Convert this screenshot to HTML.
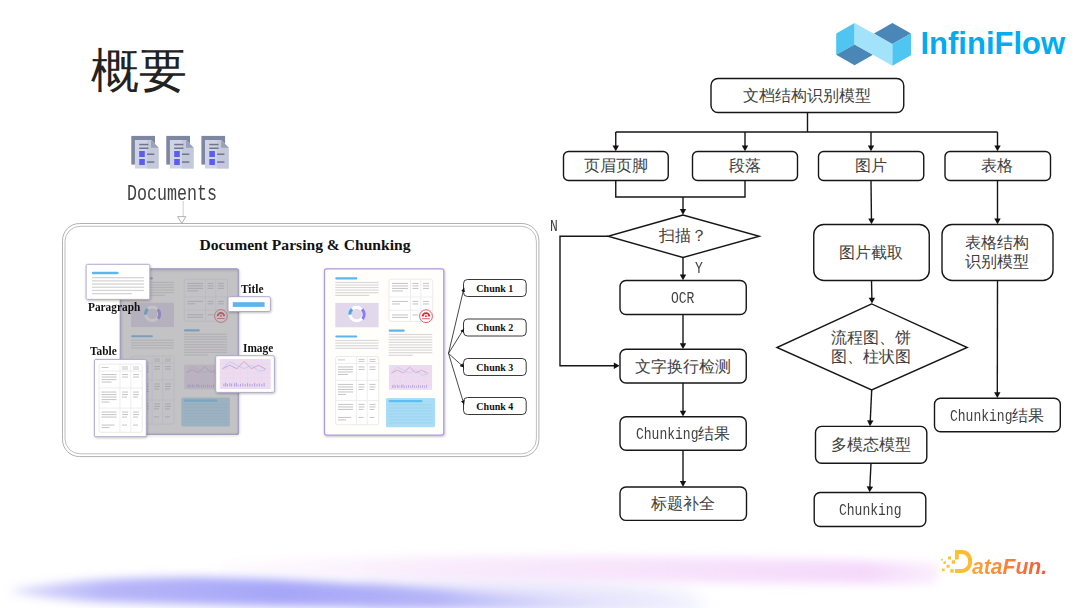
<!DOCTYPE html>
<html><head><meta charset="utf-8">
<style>
html,body{margin:0;padding:0;background:#fff;}
body{width:1080px;height:608px;position:relative;overflow:hidden;font-family:"Liberation Sans",sans-serif;}
.t{position:absolute;white-space:nowrap;text-align:center;color:#404040;font-size:15.5px;line-height:19px;width:240px;}
.m{display:inline-block;font-family:"Liberation Mono",monospace;font-size:16.7px;transform:scaleX(0.78);transform-origin:0 0;text-align:left;}
.lb{position:absolute;white-space:nowrap;font-family:"Liberation Serif",serif;font-weight:bold;color:#111;line-height:1;}
svg{position:absolute;left:0;top:0;}
</style></head>
<body>
<!-- background wave -->
<svg id="wave" width="1080" height="608" viewBox="0 0 1080 608" style="position:absolute;left:0;top:0">
  <defs>
    <filter id="bl1" x="-10%" y="-200%" width="120%" height="500%"><feGaussianBlur stdDeviation="5"/></filter>
    <filter id="bl2" x="-10%" y="-200%" width="120%" height="500%"><feGaussianBlur stdDeviation="9"/></filter>
    <linearGradient id="pk" x1="200" y1="0" x2="940" y2="0" gradientUnits="userSpaceOnUse">
      <stop offset="0" stop-color="#f6e4fa" stop-opacity="0.1"/><stop offset="0.35" stop-color="#f7e2fb" stop-opacity="0.7"/><stop offset="0.9" stop-color="#f5d9fb"/><stop offset="1" stop-color="#f6defb" stop-opacity="0.5"/>
    </linearGradient>
    <linearGradient id="bg1" x1="0" y1="0" x2="700" y2="0" gradientUnits="userSpaceOnUse">
      <stop offset="0" stop-color="#c4c2f9" stop-opacity="0.5"/><stop offset="0.15" stop-color="#b8b6f8"/><stop offset="0.4" stop-color="#a6a6f8"/><stop offset="0.62" stop-color="#b4b4f8"/><stop offset="0.8" stop-color="#d4d4fa" stop-opacity="0.8"/><stop offset="1" stop-color="#e6e6fb" stop-opacity="0.2"/>
    </linearGradient>
  </defs>
  <path d="M360,585 C500,575 650,585 700,600 L700,606 L360,606 Z" fill="#e3e1fb" filter="url(#bl2)"/>
  <path d="M220,563 C400,553 700,555 935,563 C942,570 942,580 930,584 C700,584 400,578 220,576 Z" fill="url(#pk)" filter="url(#bl1)"/>
  <path d="M12,590 C60,581 120,577 200,577 C300,579 390,585 470,592 C560,598 640,602 710,604 L710,610 C500,610 250,607 100,602 C60,600 30,596 12,592 Z" fill="url(#bg1)" filter="url(#bl1)"/>
</svg>

<!-- title -->
<div class="t" style="top:43px;width:240px;font-size:48px;line-height:56px;color:#222;text-align:left;left:91px;">概要</div>

<svg width="1080" height="608" viewBox="0 0 1080 608">
  <defs>
    <marker id="ar" viewBox="0 0 8 10" refX="8" refY="5" markerWidth="6" markerHeight="7" markerUnits="userSpaceOnUse" orient="auto">
      <path d="M0,0 L8,5 L0,10 z" fill="#111"/>
    </marker>
  </defs>
  <g fill="none" stroke="#161616" stroke-width="1.4">
    <rect x="711" y="78.5" width="192.75" height="34" rx="7"/>
    <rect x="563.5" y="151.5" width="104.75" height="29" rx="5"/>
    <rect x="692.5" y="151.5" width="105" height="29" rx="5"/>
    <rect x="818.5" y="151.5" width="105.25" height="29" rx="5"/>
    <rect x="945" y="151.5" width="105.5" height="29" rx="5"/>
    <rect x="620" y="280.5" width="126.25" height="34" rx="6"/>
    <rect x="620" y="349.25" width="126.25" height="33.75" rx="6"/>
    <rect x="620" y="416.75" width="126.25" height="33.5" rx="6"/>
    <rect x="620" y="487" width="126.5" height="33.4" rx="6"/>
    <rect x="813.75" y="224.5" width="115.5" height="56" rx="10"/>
    <rect x="942" y="224.5" width="111" height="56" rx="10"/>
    <rect x="934.5" y="398.3" width="125.8" height="33.4" rx="6"/>
    <rect x="815.5" y="426.4" width="111.3" height="36.9" rx="6"/>
    <rect x="814.2" y="492.5" width="111.6" height="34" rx="6"/>
    <path d="M683,215 L608,236.25 L683,257.5 L759.25,236.25 Z"/>
    <path d="M871.7,303.9 L776.9,347.5 L871.7,390 L967.2,347.5 Z"/>
    <!-- connectors -->
    <path d="M807.5,112.5 V132 M615.75,132 H997.5"/>
    <path d="M615.75,132.00 L615.75,146.40"/>
    <path d="M615.75,151.20 L612.55,145.40 L618.95,145.40 Z" fill="#111" stroke="none"/>
    <path d="M745.00,132.00 L745.00,146.40"/>
    <path d="M745.00,151.20 L741.80,145.40 L748.20,145.40 Z" fill="#111" stroke="none"/>
    <path d="M871.00,132.00 L871.00,146.40"/>
    <path d="M871.00,151.20 L867.80,145.40 L874.20,145.40 Z" fill="#111" stroke="none"/>
    <path d="M997.50,132.00 L997.50,146.40"/>
    <path d="M997.50,151.20 L994.30,145.40 L1000.70,145.40 Z" fill="#111" stroke="none"/>
    <path d="M615.75,180.5 V197 H745 V180.5"/>
    <path d="M683.00,197.00 L683.00,210.00"/>
    <path d="M683.00,214.80 L679.80,209.00 L686.20,209.00 Z" fill="#111" stroke="none"/>
    <path d="M683.00,257.50 L683.00,275.50"/>
    <path d="M683.00,280.30 L679.80,274.50 L686.20,274.50 Z" fill="#111" stroke="none"/>
    <path d="M683.00,314.50 L683.00,344.20"/>
    <path d="M683.00,349.00 L679.80,343.20 L686.20,343.20 Z" fill="#111" stroke="none"/>
    <path d="M608.00,236.25 L560.00,236.25 L560.00,365.75 L614.80,365.75"/>
    <path d="M619.60,365.75 L613.80,368.95 L613.80,362.55 Z" fill="#111" stroke="none"/>
    <path d="M683.00,383.00 L683.00,411.70"/>
    <path d="M683.00,416.50 L679.80,410.70 L686.20,410.70 Z" fill="#111" stroke="none"/>
    <path d="M683.00,450.25 L683.00,482.00"/>
    <path d="M683.00,486.80 L679.80,481.00 L686.20,481.00 Z" fill="#111" stroke="none"/>
    <path d="M871.00,180.50 L871.45,219.50"/>
    <path d="M871.50,224.30 L868.23,218.54 L874.63,218.46 Z" fill="#111" stroke="none"/>
    <path d="M997.50,180.50 L997.50,219.50"/>
    <path d="M997.50,224.30 L994.30,218.50 L1000.70,218.50 Z" fill="#111" stroke="none"/>
    <path d="M871.50,280.50 L871.90,298.80"/>
    <path d="M872.00,303.60 L868.68,297.87 L875.07,297.73 Z" fill="#111" stroke="none"/>
    <path d="M997.50,280.50 L997.31,393.30"/>
    <path d="M997.30,398.10 L994.11,392.29 L1000.51,392.31 Z" fill="#111" stroke="none"/>
    <path d="M871.70,390.00 L870.23,421.41"/>
    <path d="M870.00,426.20 L867.08,420.26 L873.47,420.56 Z" fill="#111" stroke="none"/>
    <path d="M871.00,463.30 L869.83,487.51"/>
    <path d="M869.60,492.30 L866.68,486.35 L873.08,486.66 Z" fill="#111" stroke="none"/>
  </g>

  <!-- InfiniFlow logo -->
  <g>
    <path d="M836.2,33.5 L854.6,23 L854.6,44.4 L836.2,54.8 Z" fill="#4ec6f1"/>
    <path d="M836.2,54.8 L854.6,44.4 L873,54.8 L854.6,65.2 Z" fill="#4a87b6"/>
    <path d="M854.6,23 L892.4,43.9 L892.4,65.7 L854.6,44.4 Z" fill="#a3e2fb"/>
    <path d="M874,33.5 L892.4,23 L911,33.5 L892.4,43.9 Z" fill="#4a87b6"/>
    <path d="M892.4,43.9 L911,33.5 L911,55.2 L892.4,65.7 Z" fill="#4ec6f1"/>
  </g>
</svg>

<div class="lb" style="left:920.5px;top:28.4px;font-family:'Liberation Sans',sans-serif;font-size:31px;color:#02acee;">InfiniFlow</div>


<!-- doc icons -->
<svg width="1080" height="608" viewBox="0 0 1080 608">
  <defs>
    <g id="ic">
      <rect x="0" y="0" width="23.7" height="28.7" fill="#7e87a1"/>
      <path d="M3.6,4 H19.7 L27.3,11.9 V32.6 H3.6 Z" fill="#cfd3e3"/>
      <path d="M15.7,4 H19.7 L27.3,11.9 V32.6 H15.7 Z" fill="#c3c8da"/>
      <path d="M19.7,4 V11.9 H27.3 Z" fill="#9aa1b6"/>
      <rect x="7.9" y="7.9" width="9.2" height="1.5" fill="#6f758b"/>
      <rect x="7.9" y="11.6" width="9.2" height="1.5" fill="#6f758b"/>
      <rect x="7.9" y="15.1" width="5.6" height="6" fill="#5b5df0"/>
      <rect x="7.9" y="23.1" width="5.6" height="6" fill="#5b5df0"/>
      <rect x="15.7" y="17.6" width="7.3" height="1.5" fill="#70768c"/>
      <rect x="15.7" y="25.4" width="7.3" height="1.5" fill="#70768c"/>
    </g>
    <g id="tbl"><rect x="11.1" y="87.6" width="43.1" height="68.2" rx="2" fill="#fff" stroke="#e2e2e2" stroke-width="0.7"/>
      <path d="M32,87.6 V155.8 M42.8,87.6 V155.8 M11.1,94.6 H54.2 M11.1,111.4 H54.2 M11.1,131.6 H54.2" stroke="#e6e6e6" stroke-width="0.7"/>
      <g fill="#c9c9c9">
        <rect x="13.5" y="90.5" width="7" height="1"/><rect x="34" y="90" width="6" height="1"/><rect x="34" y="92" width="6" height="1"/><rect x="45" y="90" width="6" height="1"/><rect x="45" y="92" width="6" height="1"/>
        <rect x="13.5" y="97.5" width="15" height="1.1"/><rect x="13.5" y="100" width="15" height="1.1"/><rect x="13.5" y="102.5" width="15" height="1.1"/><rect x="13.5" y="105" width="10" height="1.1"/>
        <rect x="34" y="97.5" width="6" height="1.1"/><rect x="34" y="100" width="6" height="1.1"/><rect x="45" y="97.5" width="6" height="1.1"/><rect x="45" y="100" width="6" height="1.1"/>
        <rect x="13.5" y="115" width="15" height="1.1"/><rect x="13.5" y="117.5" width="15" height="1.1"/><rect x="13.5" y="120" width="15" height="1.1"/><rect x="13.5" y="122.5" width="15" height="1.1"/><rect x="13.5" y="125" width="8" height="1.1"/>
        <rect x="34" y="115" width="6" height="1.1"/><rect x="34" y="117.5" width="6" height="1.1"/><rect x="34" y="120" width="5" height="1.1"/><rect x="45" y="115" width="6" height="1.1"/><rect x="45" y="117.5" width="6" height="1.1"/><rect x="45" y="120" width="5" height="1.1"/>
        <rect x="13.5" y="135" width="15" height="1.1"/><rect x="13.5" y="137.5" width="15" height="1.1"/><rect x="13.5" y="140" width="15" height="1.1"/><rect x="13.5" y="148" width="13" height="1.1"/><rect x="13.5" y="150.5" width="8" height="1.1"/>
        <rect x="34" y="135" width="6" height="1.1"/><rect x="34" y="137.5" width="6" height="1.1"/><rect x="34" y="140" width="5" height="1.1"/><rect x="45" y="135" width="6" height="1.1"/><rect x="45" y="137.5" width="6" height="1.1"/><rect x="45" y="140" width="5" height="1.1"/>
        <rect x="34" y="148" width="5" height="1.1"/><rect x="45" y="148" width="5" height="1.1"/>
      </g>
      </g>
    <g id="chart"><rect x="64.5" y="96.1" width="43.1" height="24.8" fill="#ebdcf1"/>
      <path d="M64.5,100 H107.6 M64.5,104 H107.6 M64.5,108 H107.6 M64.5,112 H107.6 M64.5,116 H107.6 M70,96.1 V120.9 M76,96.1 V120.9 M82,96.1 V120.9 M88,96.1 V120.9 M94,96.1 V120.9 M100,96.1 V120.9" stroke="#f2d2ea" stroke-width="0.35"/>
      <polyline points="66.96,104.06 72.81,101.3 78.97,104.06 85.13,98.24 91.28,104.06 97.13,101.3 103.29,104.37" fill="none" stroke="#c77fb6" stroke-width="0.5"/>
      <polyline points="66.96,104.06 72.81,98.24 78.97,101.3 85.13,104.06 91.28,101.3 97.13,106.2 103.29,105.3" fill="none" stroke="#9ccbea" stroke-width="0.5"/>
      <path d="M68,118.8 V116.5 M69.5,118.8 V115.8 M71,118.8 V116.8 M73,118.8 V116 M74.5,118.8 V116.5 M77,118.8 V116.2 M78.5,118.8 V115.6 M80,118.8 V117.2 M82,118.8 V116.6 M84,118.8 V116.2 M86,118.8 V116.9 M88,118.8 V116.1 M90,118.8 V116.6 M92,118.8 V117 M94,118.8 V116 M96,118.8 V116.8 M98,118.8 V116.3 M100,118.8 V116.9 M102,118.8 V116" stroke="#8f82d8" stroke-width="0.55"/>
      </g>
    <g id="doc">
      <rect x="0" y="0" width="119.3" height="166.2" rx="2" fill="#fffefb" stroke="#a99be0" stroke-width="1.3"/>
      <rect x="10.8" y="8.4" width="22" height="2.2" rx="1" fill="#5cb6ec"/>
      <g fill="#d9d9d9">
        <rect x="10.8" y="13" width="43.3" height="1.2"/><rect x="10.8" y="15.5" width="43.3" height="1.2"/>
        <rect x="10.8" y="18" width="43.3" height="1.2"/><rect x="10.8" y="20.6" width="43.3" height="1.2"/>
        <rect x="10.8" y="23.2" width="43.3" height="1.2"/><rect x="10.8" y="25.9" width="34" height="1.2"/>
      </g>
      <rect x="10.8" y="34" width="43.3" height="24.4" fill="#e1d8ec"/>
      <circle cx="32.2" cy="45.1" r="6.8" fill="none" stroke="#fff" stroke-width="3"/>
      <path d="M25.4,45.8 A6.8,6.8 0 0 1 27.6,40.2" fill="none" stroke="#4aa6ee" stroke-width="3"/>
      <path d="M37.5,40.5 A6.8,6.8 0 0 1 38,50" fill="none" stroke="#8d7df0" stroke-width="3"/>
      <rect x="64.5" y="10.3" width="43.7" height="42.2" rx="2" fill="#fff" stroke="#e2e2e2" stroke-width="0.7"/>
      <path d="M86,10.3 V52.5 M96.3,10.3 V52.5 M64.5,28.1 H108.2 M64.5,41.4 H108.2" stroke="#e6e6e6" stroke-width="0.7"/>
      <g fill="#c9c9c9">
        <rect x="67.5" y="14" width="16" height="1.1"/><rect x="67.5" y="16.5" width="16" height="1.1"/><rect x="67.5" y="19" width="16" height="1.1"/><rect x="67.5" y="21.5" width="11" height="1.1"/>
        <rect x="88" y="14" width="6" height="1.1"/><rect x="88" y="16.5" width="6" height="1.1"/><rect x="88" y="19" width="6" height="1.1"/>
        <rect x="98.5" y="14" width="6" height="1.1"/><rect x="98.5" y="16.5" width="6" height="1.1"/><rect x="98.5" y="19" width="6" height="1.1"/>
        <rect x="67.5" y="32" width="16" height="1.1"/><rect x="67.5" y="34.5" width="8" height="1.1"/>
        <rect x="88" y="32" width="6" height="1.1"/><rect x="98.5" y="32" width="6" height="1.1"/><rect x="88" y="34.5" width="6" height="1.1"/><rect x="98.5" y="34.5" width="6" height="1.1"/>
        <rect x="67.5" y="45.5" width="16" height="1.1"/><rect x="67.5" y="48" width="16" height="1.1"/><rect x="88" y="45.5" width="6" height="1.1"/>
      </g>
      <circle cx="101.5" cy="47.3" r="6.4" fill="#fff" stroke="#e04a5a" stroke-width="0.9"/>
      <path d="M97.2,47.6 A4.3,4.3 0 0 1 105.8,47.6 L103.9,47.6 A2.4,2.4 0 0 0 99.1,47.6 Z" fill="#ee1c2e"/>
      <circle cx="101.5" cy="47.3" r="0.9" fill="#ee1c2e"/>
      <rect x="97.6" y="49.4" width="7.8" height="0.9" fill="#e8404f"/>
      <rect x="64.2" y="60.7" width="16" height="2.2" rx="1" fill="#5cb6ec"/>
      <g fill="#d9d9d9">
        <rect x="64.2" y="65" width="43.6" height="1.2"/><rect x="64.2" y="67.6" width="43.6" height="1.2"/><rect x="64.2" y="70.2" width="43.6" height="1.2"/>
        <rect x="64.2" y="72.8" width="43.6" height="1.2"/><rect x="64.2" y="75.4" width="43.6" height="1.2"/><rect x="64.2" y="78" width="43.6" height="1.2"/>
        <rect x="64.2" y="80.6" width="43.6" height="1.2"/><rect x="64.2" y="83.2" width="43.6" height="1.2"/><rect x="64.2" y="85.8" width="24" height="1.2"/>
      </g>
      <rect x="10.8" y="66.6" width="22" height="2" rx="1" fill="#5cb6ec"/>
      <g fill="#d9d9d9">
        <rect x="10.8" y="71" width="43.2" height="1.2"/><rect x="10.8" y="73.6" width="43.2" height="1.2"/><rect x="10.8" y="76.2" width="43.2" height="1.2"/><rect x="10.8" y="78.8" width="43.2" height="1.2"/>
      </g>
      <use href="#tbl"/>
      <use href="#chart"/>
      <rect x="61.5" y="129" width="49.1" height="29.3" rx="1.5" fill="#abdcf5"/>
      <rect x="64.2" y="131.1" width="33.6" height="2.2" fill="#5cbfef"/>
      <path d="M64.2,136 H108 M64.2,139 H108 M64.2,142 H108 M64.2,145 H108 M64.2,148 H108 M64.2,151 H108 M64.2,154 H108" stroke="#8dd0f2" stroke-width="0.6"/>
    </g>
    <filter id="sh" x="-20%" y="-20%" width="140%" height="140%"><feDropShadow dx="0.6" dy="1" stdDeviation="0.8" flood-color="#000" flood-opacity="0.25"/></filter>
  </defs>
  <use href="#ic" x="131.3" y="135.9"/>
  <use href="#ic" x="166.3" y="135.9"/>
  <use href="#ic" x="201.4" y="135.9"/>
  <!-- documents arrow -->
  <path d="M183.2,201 V217" stroke="#c4c4c4" stroke-width="0.8" fill="none"/>
  <path d="M177.6,216.6 L185.8,216.6 L181.9,223.4 Z" fill="#fff" stroke="#9a9a9a" stroke-width="0.75"/>
  <!-- container double border -->
  <rect x="62.5" y="223.5" width="476.4" height="233.1" rx="17" fill="none" stroke="#a8a8a8" stroke-width="0.9"/>
  <rect x="65" y="226.3" width="471.4" height="227.5" rx="15" fill="none" stroke="#b8b8b8" stroke-width="0.9"/>
  <!-- left gray doc -->
  <use href="#doc" transform="translate(120.4,268.9) scale(0.99,0.996)"/>
  <rect x="120.4" y="268.9" width="118.1" height="165.5" rx="2" fill="#918f96" fill-opacity="0.54"/>
  <rect x="120.4" y="268.9" width="118.1" height="165.5" rx="2" fill="none" stroke="#a8a2c0" stroke-width="0.9" filter="url(#sh)"/>
  <!-- right doc -->
  <use href="#doc" x="324.5" y="268.9" filter="url(#sh)"/>
  <!-- cards -->
  <g filter="url(#sh)">
    <rect x="86.1" y="264.3" width="63.7" height="35.1" rx="1.5" fill="#fff" stroke="#aaa2c8" stroke-width="0.9"/>
    <rect x="228" y="296.7" width="42.4" height="14.8" rx="1.5" fill="#fff" stroke="#aaa2c8" stroke-width="0.9"/>
    <rect x="94.4" y="359.4" width="51.9" height="77.3" rx="1.5" fill="#fff" stroke="#aaa2c8" stroke-width="0.9"/>
    <rect x="215.7" y="355.7" width="58.7" height="36.7" rx="1.5" fill="#fff" stroke="#aaa2c8" stroke-width="0.9"/>
  </g>
  <rect x="92" y="271.7" width="26.5" height="2.5" rx="1" fill="#5cb6ec"/>
  <g fill="#d5d5d5">
    <rect x="92" y="277" width="52" height="1.3"/><rect x="92" y="280.2" width="52" height="1.3"/><rect x="92" y="283.4" width="52" height="1.3"/>
    <rect x="92" y="286.6" width="52" height="1.3"/><rect x="92" y="289.8" width="52" height="1.3"/><rect x="92" y="293" width="40" height="1.3"/>
  </g>
  <rect x="232.8" y="302.2" width="31.8" height="4.7" fill="#5cb6ec"/>
  <use href="#tbl" transform="translate(88,276.5)"/>
  <use href="#chart" transform="translate(219.8,359) scale(1.181,1.21) translate(-64.5,-96.1)"/>
  <!-- chunk boxes -->
  <g fill="#fff" stroke="#222" stroke-width="0.9">
    <rect x="463.5" y="279.5" width="62.7" height="17" rx="4"/>
    <rect x="463.5" y="319" width="62.7" height="17" rx="4"/>
    <rect x="463.5" y="358.5" width="62.7" height="17" rx="4"/>
    <rect x="463.5" y="397.5" width="62.7" height="17" rx="4"/>
  </g>
  <defs>
    <marker id="ar2" viewBox="0 0 10 10" refX="10" refY="5" markerWidth="4" markerHeight="4" markerUnits="userSpaceOnUse" orient="auto">
      <path d="M0,0 L10,5 L0,10 z" fill="#111"/>
    </marker>
  </defs>
  <g stroke="#1a1a1a" stroke-width="0.8" fill="none">
    <path d="M448.5,353.4 L464,287.8" marker-end="url(#ar2)"/>
    <path d="M448.5,353.4 L464,328.7" marker-end="url(#ar2)"/>
    <path d="M448.5,353.4 L464,367.4" marker-end="url(#ar2)"/>
    <path d="M448.5,353.4 L464,404.4" marker-end="url(#ar2)"/>
  </g>
  <!-- DataFun logo -->
  <defs>
    <linearGradient id="dfg" x1="940" y1="0" x2="1046" y2="0" gradientUnits="userSpaceOnUse">
      <stop offset="0" stop-color="#fccb2a"/><stop offset="0.35" stop-color="#fbb634"/><stop offset="0.7" stop-color="#f87e3a"/><stop offset="1" stop-color="#f4553d"/>
    </linearGradient>
  </defs>
  <g fill="url(#dfg)">
    <rect x="941" y="558.8" width="1.8" height="1.8"/>
    <rect x="948" y="556.5" width="3" height="3"/>
    <rect x="943.4" y="561.3" width="2.6" height="2.6"/>
    <rect x="951.8" y="560.3" width="3.4" height="3.4"/>
    <rect x="946.6" y="564.8" width="3" height="3"/>
    <rect x="942" y="568.6" width="2.6" height="2.6"/>
    <rect x="950.2" y="569.2" width="3.4" height="3.4"/>
    <path d="M955,550.1 H962 C968.5,550.1 972.1,555 972.1,561.5 C972.1,568 968,573 961,573 H955 V569.1 H960.8 C965.5,569.1 968.2,565.8 968.2,561.5 C968.2,557.2 965.5,554 961.5,554 H958.8 V559.5 H955 Z"/>
  </g>
</svg>
<div class="lb" style="left:972px;top:555.5px;transform:scaleX(0.96);transform-origin:0 0;font-family:'Liberation Sans',sans-serif;font-style:italic;font-size:22px;background:linear-gradient(90deg,#fba93a,#f4553d);-webkit-background-clip:text;background-clip:text;color:transparent;">ataFun.</div>

<!-- doc labels -->
<div class="t" style="left:127px;top:184.7px;width:auto;text-align:left;"><span class="m" style="width:90px;font-size:22px;transform:scaleX(0.757);color:#404040">Documents</span></div>
<div class="lb" style="left:199.5px;top:236.6px;font-size:15.6px;">Document Parsing &amp; Chunking</div>
<div class="lb" style="left:88px;top:301px;font-size:12.6px;transform:scaleX(0.9);transform-origin:0 0;">Paragraph</div>
<div class="lb" style="left:241px;top:282.5px;font-size:12.6px;transform:scaleX(0.9);transform-origin:0 0;">Title</div>
<div class="lb" style="left:89.5px;top:344.5px;font-size:12.6px;transform:scaleX(0.9);transform-origin:0 0;">Table</div>
<div class="lb" style="left:243px;top:341.5px;font-size:12.6px;transform:scaleX(0.9);transform-origin:0 0;">Image</div>
<div class="lb" style="left:463.5px;top:283.7px;width:62.7px;text-align:center;font-size:10px;">Chunk 1</div>
<div class="lb" style="left:463.5px;top:323.2px;width:62.7px;text-align:center;font-size:10px;">Chunk 2</div>
<div class="lb" style="left:463.5px;top:362.7px;width:62.7px;text-align:center;font-size:10px;">Chunk 3</div>
<div class="lb" style="left:463.5px;top:401.7px;width:62.7px;text-align:center;font-size:10px;">Chunk 4</div>

<!-- flowchart text -->
<div class="t" style="left:687px;top:86px;">文档结构识别模型</div>
<div class="t" style="left:496px;top:156px;">页眉页脚</div>
<div class="t" style="left:625px;top:156px;">段落</div>
<div class="t" style="left:751px;top:156px;">图片</div>
<div class="t" style="left:877px;top:156px;">表格</div>
<div class="t" style="left:563px;top:226px;">扫描？</div>
<div class="t" style="left:563px;top:288px;"><span class="m" style="width:23.5px">OCR</span></div>
<div class="t" style="left:563px;top:357px;">文字换行检测</div>
<div class="t" style="left:563px;top:424px;"><span class="m" style="width:62.5px">Chunking</span>结果</div>
<div class="t" style="left:563px;top:494px;">标题补全</div>
<div class="t" style="left:751px;top:243px;">图片截取</div>
<div class="t" style="left:877px;top:233px;">表格结构<br>识别模型</div>
<div class="t" style="left:751px;top:328px;">流程图、饼<br>图、柱状图</div>
<div class="t" style="left:877px;top:406px;"><span class="m" style="width:62.5px">Chunking</span>结果</div>
<div class="t" style="left:751px;top:435px;">多模态模型</div>
<div class="t" style="left:750px;top:500px;"><span class="m" style="width:62.5px">Chunking</span></div>
<div class="t" style="left:543.5px;top:216px;width:20px;"><span class="m" style="width:8px">N</span></div>
<div class="t" style="left:689px;top:258px;width:20px;"><span class="m" style="width:8px">Y</span></div>

</body></html>
